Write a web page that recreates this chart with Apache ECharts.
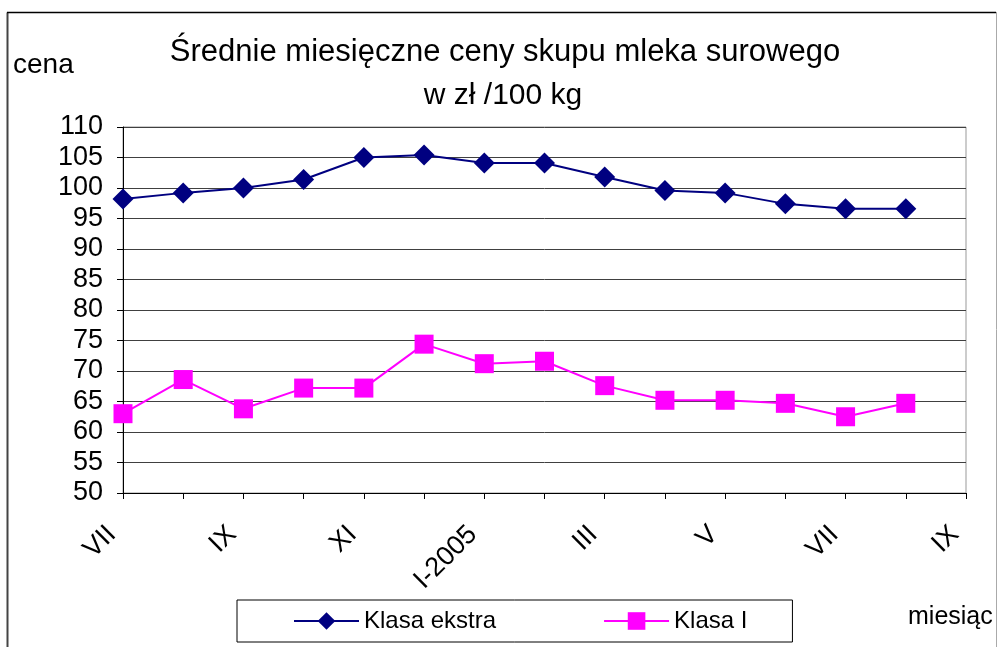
<!DOCTYPE html>
<html>
<head>
<meta charset="utf-8">
<script src="https://cdn.jsdelivr.net/npm/echarts@6/dist/echarts.min.js"></script>
<style>
html, body { margin: 0; padding: 0; background: #fff; }
#main { width: 997px; height: 647px; }
</style>
</head>
<body>
<div id="main"></div>
<script>
// miesiące od VII 2004 do IX 2005
var months = ['VII', 'VIII', 'IX', 'X', 'XI', 'XII', 'I-2005', 'II', 'III', 'IV', 'V', 'VI', 'VII', 'VIII', 'IX'];
var klasaEkstra = [98.2, 99.2, 100, 101.4, 105, 105.4, 104.1, 104.1, 101.8, 99.6, 99.2, 97.4, 96.6, 96.6];
var klasaI = [63, 68.6, 63.8, 67.2, 67.2, 74.4, 71.2, 71.6, 67.6, 65.2, 65.2, 64.7, 62.5, 64.7];
var yTicks = { min: 50, max: 110, step: 5 };

var font = 'Liberation Sans, Arial, sans-serif';
var myChart = echarts.init(document.getElementById('main'));

var option = {
    animation: false,
    backgroundColor: '#fff',
    textStyle: { fontFamily: font },
    graphic: [
        // ramka wykresu
        { type: 'line', shape: { x1: 7.5, y1: 12.5, x2: 7.5, y2: 647 }, style: { stroke: '#444', lineWidth: 2 } },
        { type: 'line', shape: { x1: 7, y1: 12.5, x2: 996, y2: 12.5 }, style: { stroke: '#000', lineWidth: 1.5 } },
        { type: 'line', shape: { x1: 996.5, y1: 12, x2: 996.5, y2: 647 }, style: { stroke: '#aaa', lineWidth: 1 } },
        { type: 'text', left: 13, top: 51, style: { text: 'cena', fontSize: 28, fontFamily: font, fill: '#000' } },
        { type: 'text', x: 505, y: 52, style: { text: 'Średnie miesięczne ceny skupu mleka surowego', fontSize: 31, fontFamily: font, fill: '#000', align: 'center', verticalAlign: 'middle' } },
        { type: 'text', x: 503, y: 96, style: { text: 'w zł /100 kg', fontSize: 30, fontFamily: font, fill: '#000', align: 'center', verticalAlign: 'middle' } },
        { type: 'text', x: 908, y: 617, style: { text: 'miesiąc', fontSize: 25, fontFamily: font, fill: '#000', verticalAlign: 'middle' } }
    ],
    legend: {
        left: 237,
        top: 600,
        padding: [9, 45, 9, 56],
        itemGap: 107,
        itemWidth: 65,
        itemHeight: 22,
        borderColor: '#000',
        borderWidth: 1,
        textStyle: { fontSize: 24, fontFamily: font, color: '#000' },
        data: ['Klasa ekstra', 'Klasa I']
    },
    grid: {
        left: 123,
        top: 127,
        right: 31,
        bottom: 154,
        show: true,
        borderColor: '#999',
        borderWidth: 1
    },
    xAxis: {
        type: 'category',
        boundaryGap: false,
        data: months,
        axisLine: { lineStyle: { color: '#000', width: 1 } },
        axisTick: { show: true, interval: 0, length: 6, lineStyle: { color: '#000' } },
        axisLabel: {
            interval: 1,
            rotate: 45,
            margin: 26,
            padding: [0, 16, 0, 0],
            fontSize: 27,
            fontFamily: font,
            color: '#000'
        },
        splitLine: { show: false }
    },
    yAxis: {
        type: 'value',
        min: yTicks.min,
        max: yTicks.max,
        interval: yTicks.step,
        axisLine: { show: true, lineStyle: { color: '#000', width: 1 } },
        axisTick: { show: true, length: 6, lineStyle: { color: '#000' } },
        axisLabel: { margin: 20, fontSize: 27, fontFamily: font, color: '#000' },
        splitLine: { show: true, lineStyle: { color: '#404040', width: 1 } }
    },
    series: [
        {
            name: 'Klasa ekstra',
            type: 'line',
            data: klasaEkstra,
            symbol: 'diamond',
            symbolSize: 21,
            showAllSymbol: true,
            itemStyle: { color: '#000080' },
            lineStyle: { color: '#000080', width: 2 }
        },
        {
            name: 'Klasa I',
            type: 'line',
            data: klasaI,
            symbol: 'rect',
            symbolSize: 19,
            showAllSymbol: true,
            itemStyle: { color: '#ff00ff' },
            lineStyle: { color: '#ff00ff', width: 2 }
        }
    ]
};

myChart.setOption(option);
</script>
</body>
</html>
